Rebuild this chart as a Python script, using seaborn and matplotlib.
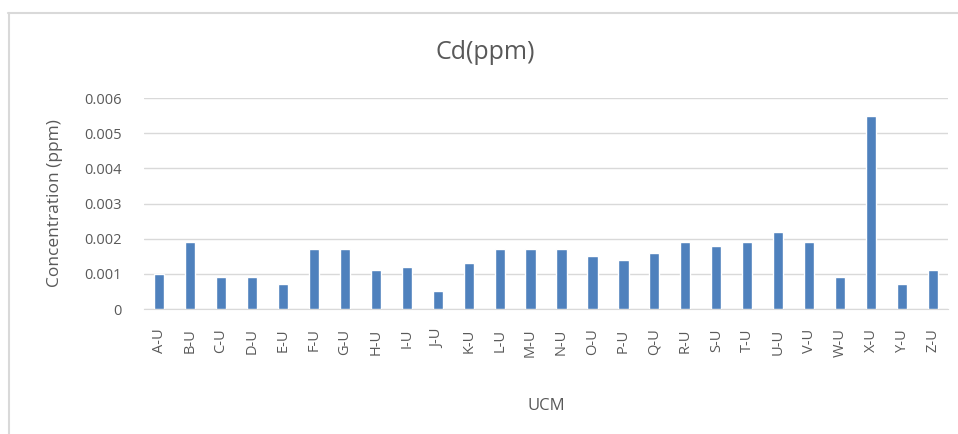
import numpy as np
import pandas as pd
import matplotlib
matplotlib.use("Agg")
import matplotlib.pyplot as plt
import seaborn as sns
from matplotlib.lines import Line2D

# Dati
ucm = ["A-U", "B-U", "C-U", "D-U", "E-U", "F-U", "G-U", "H-U", "I-U", "J-U",
       "K-U", "L-U", "M-U", "N-U", "O-U", "P-U", "Q-U", "R-U", "S-U", "T-U",
       "U-U", "V-U", "W-U", "X-U", "Y-U", "Z-U"]
cd_ppm = [0.0010, 0.0019, 0.0009, 0.0009, 0.0007, 0.0017, 0.0017, 0.0011, 0.0012, 0.0005,
          0.0013, 0.0017, 0.0017, 0.0017, 0.0015, 0.0014, 0.0016, 0.0019, 0.0018, 0.0019,
          0.0022, 0.0019, 0.0009, 0.0055, 0.0007, 0.0011]
yticks = [0, 0.001, 0.002, 0.003, 0.004, 0.005, 0.006]
ytick_labels = ["0", "0.001", "0.002", "0.003", "0.004", "0.005", "0.006"]

df = pd.DataFrame({"UCM": ucm, "Cd": cd_ppm})

sns.set_style("white")
plt.rcParams["font.family"] = ["Open Sans", "DejaVu Sans"]
grey = "#595959"

fig = plt.figure(figsize=(9.58, 4.34), dpi=100)
ax = fig.add_axes([0.150, 0.288, 0.840, 0.486])

sns.barplot(data=df, x="UCM", y="Cd", color="#4f81bd", width=0.33,
            saturation=1, ax=ax, zorder=3)

ax.set_ylim(0, 0.006)
ax.set_xlim(-0.5, len(ucm) - 0.5)
ax.set_yticks(yticks)
ax.set_yticklabels(ytick_labels)
ax.yaxis.grid(True, color="#d9d9d9", linewidth=1, zorder=0)
ax.set_axisbelow(True)
for s in ["top", "right", "left"]:
    ax.spines[s].set_visible(False)
ax.spines["bottom"].set_color("#d9d9d9")
ax.tick_params(axis="both", length=0, colors=grey, labelsize=10.5)
ax.tick_params(axis="y", pad=16)
ax.tick_params(axis="x", pad=14)
plt.setp(ax.get_xticklabels(), rotation=90)

ax.set_xlabel("UCM", color=grey, fontsize=12, labelpad=29)
ax.set_ylabel("Concentration (ppm)", color=grey, fontsize=12.5, labelpad=15)
fig.text(0.507, 0.88, "Cd(ppm)", ha="center", va="center", fontsize=18, color=grey)

# bordo del grafico
fig.add_artist(Line2D([8 / 958, 1], [1 - 12.5 / 434, 1 - 12.5 / 434],
                      transform=fig.transFigure, color="#d9d9d9", linewidth=1.5))
fig.add_artist(Line2D([8.5 / 958, 8.5 / 958], [0, 1 - 12.5 / 434],
                      transform=fig.transFigure, color="#d9d9d9", linewidth=1.5))

fig.savefig("out.png", dpi=100, facecolor="white")
